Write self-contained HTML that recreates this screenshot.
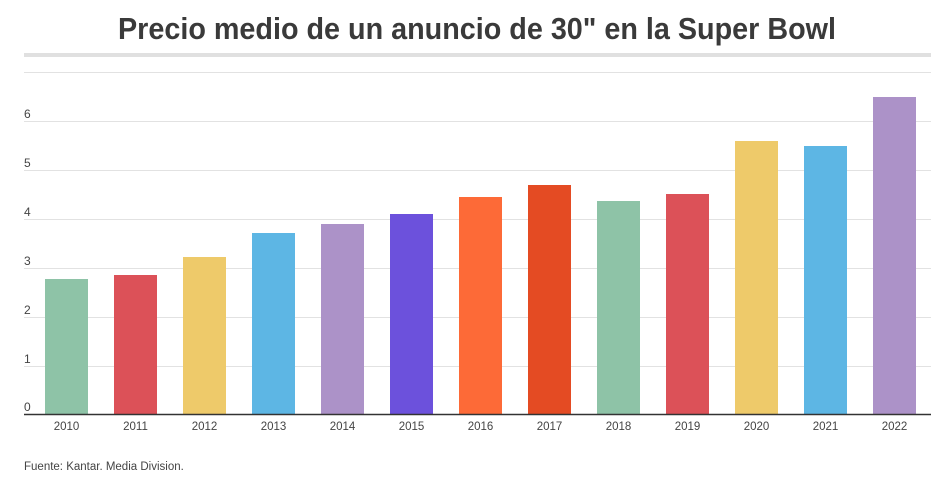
<!DOCTYPE html>
<html><head><meta charset="utf-8"><style>
body{margin:0;background:#fff;width:950px;height:481px;overflow:hidden;font-family:"Liberation Sans",sans-serif}
</style></head><body>
<svg width="950" height="481" xmlns="http://www.w3.org/2000/svg" font-family="Liberation Sans, sans-serif">
<text x="118" y="39" textLength="718" lengthAdjust="spacingAndGlyphs" font-size="31" font-weight="bold" fill="#3a3a3a">Precio medio de un anuncio de 30" en la Super Bowl</text>
<rect x="24" y="53" width="907" height="4" fill="#e0e0e0"/>
<g stroke="#e2e2e2" stroke-width="1">
<line x1="24" x2="931" y1="72.5" y2="72.5"/>
<line x1="24" x2="931" y1="121.5" y2="121.5"/>
<line x1="24" x2="931" y1="170.5" y2="170.5"/>
<line x1="24" x2="931" y1="219.5" y2="219.5"/>
<line x1="24" x2="931" y1="268.5" y2="268.5"/>
<line x1="24" x2="931" y1="317.5" y2="317.5"/>
<line x1="24" x2="931" y1="366.5" y2="366.5"/>
</g>
<g font-size="12" fill="#444">
<text x="24" y="118">6</text><text x="24" y="167">5</text><text x="24" y="216">4</text><text x="24" y="265">3</text><text x="24" y="314">2</text><text x="24" y="363">1</text><text x="24" y="411">0</text>
</g>
<g>
<rect x="45" y="279" width="43" height="135" fill="#8ec3a7"/>
<rect x="114" y="275" width="43" height="139" fill="#dc5158"/>
<rect x="183" y="257" width="43" height="157" fill="#eeca6a"/>
<rect x="252" y="233" width="43" height="181" fill="#5db6e4"/>
<rect x="321" y="224" width="43" height="190" fill="#ac92c8"/>
<rect x="390" y="214" width="43" height="200" fill="#6c51dc"/>
<rect x="459" y="197" width="43" height="217" fill="#fd6a37"/>
<rect x="528" y="185" width="43" height="229" fill="#e44b23"/>
<rect x="597" y="201" width="43" height="213" fill="#8ec3a7"/>
<rect x="666" y="194" width="43" height="220" fill="#dc5158"/>
<rect x="735" y="141" width="43" height="273" fill="#eeca6a"/>
<rect x="804" y="146" width="43" height="268" fill="#5db6e4"/>
<rect x="873" y="97" width="43" height="317" fill="#ac92c8"/>
</g>
<line x1="24" x2="931" y1="414.5" y2="414.5" stroke="#333" stroke-width="1.5"/>
<g font-size="11.5" fill="#444" text-anchor="middle">
<text x="66.5" y="430">2010</text><text x="135.5" y="430">2011</text><text x="204.5" y="430">2012</text><text x="273.5" y="430">2013</text><text x="342.5" y="430">2014</text><text x="411.5" y="430">2015</text><text x="480.5" y="430">2016</text><text x="549.5" y="430">2017</text><text x="618.5" y="430">2018</text><text x="687.5" y="430">2019</text><text x="756.5" y="430">2020</text><text x="825.5" y="430">2021</text><text x="894.5" y="430">2022</text>
</g>
<text x="24" y="470" font-size="11.5" fill="#444">Fuente: Kantar. Media Division.</text>
</svg>
</body></html>
